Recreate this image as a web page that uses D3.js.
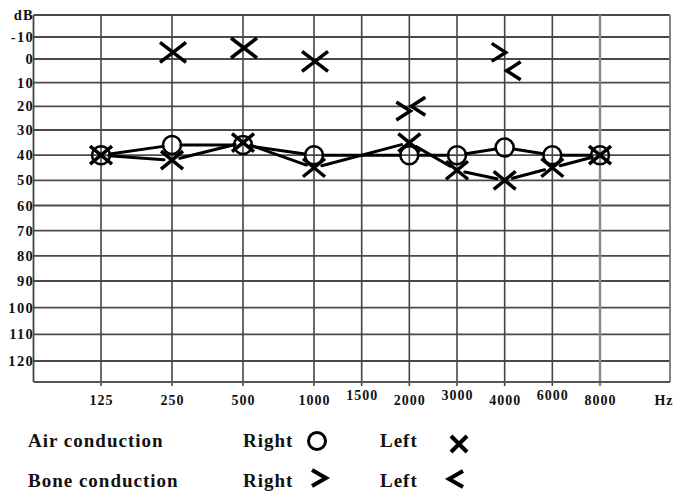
<!DOCTYPE html>
<html><head><meta charset="utf-8">
<script src="https://cdn.jsdelivr.net/npm/d3@7"></script>
<style>
html,body{margin:0;padding:0;background:#fff;}
svg{display:block;}
text{font-family:"Liberation Serif","Times New Roman",serif;font-weight:bold;fill:#111;}
</style></head>
<body>
<svg id="chart" width="678" height="491"></svg>
<script>
// ---------- data ----------
const freqLabels = ["125","250","500","1000","1500","2000","3000","4000","6000","8000"];
const raisedLabels = ["1500","3000","6000"];
const dbTicks = [-10,0,10,20,30,40,50,60,70,80,90,100,110,120];

const airRightFreq = ["125","250","500","1000","2000","3000","4000","6000","8000"];
const airRight     = [40, 36, 36, 40, 40, 40, 37, 40, 40];
const airLeftFreq  = ["125","250","500","1000","2000","3000","4000","6000","8000"];
const airLeft      = [40, 42, 35, 45, 35, 46, 50, 45, 40];
const extraLeftFreq = ["250","500","1000"];
const extraLeft     = [-3, -5, 1];
const boneRightFreq = ["2000","4000"];
const boneRight     = [22, -3];
const boneLeftFreq  = ["2000","4000"];
const boneLeft      = [20, 5];

// ---------- layout ----------
const svg = d3.select("#chart");
const plot = {left:33.5, top:15, right:670, bottom:382};

const x = d3.scaleLinear().domain([0,3,9]).range([101,314,600]);
const xf = f => x(freqLabels.indexOf(f));
const y = d3.scaleLinear().domain([-20,0,30,90,120]).range([15,59,130,281,361]);

const g = svg.append("g");

// horizontal grid
g.selectAll("line.h").data([-20].concat(dbTicks)).enter().append("line")
  .attr("x1", plot.left).attr("x2", plot.right)
  .attr("y1", d=>y(d)).attr("y2", d=>y(d))
  .attr("stroke","#4a4a4a").attr("stroke-width",1.8);
// vertical grid
g.selectAll("line.v").data(freqLabels).enter().append("line")
  .attr("x1", d=>xf(d)).attr("x2", d=>xf(d))
  .attr("y1", plot.top).attr("y2", plot.bottom+4)
  .attr("stroke", d=> d==="8000" ? "#888" : "#444")
  .attr("stroke-width", d=> d==="8000" ? 2.4 : 1.6);
// frame
g.append("line").attr("x1",plot.left).attr("x2",plot.left).attr("y1",plot.top).attr("y2",plot.bottom)
  .attr("stroke","#444").attr("stroke-width",1.8);
g.append("line").attr("x1",plot.right).attr("x2",plot.right).attr("y1",plot.top).attr("y2",plot.bottom)
  .attr("stroke","#777").attr("stroke-width",1.8);
g.append("line").attr("x1",plot.left).attr("x2",plot.right).attr("y1",plot.bottom).attr("y2",plot.bottom)
  .attr("stroke","#555").attr("stroke-width",1.8);

// y labels
g.selectAll("text.yl").data(dbTicks).enter().append("text")
  .attr("x", plot.left+0.5).attr("y", d=>y(d)).attr("dy","0.35em")
  .attr("text-anchor","end").attr("font-size",14.5).attr("letter-spacing",1.3).text(d=>d);
g.append("text").attr("x", plot.left+0.5).attr("y", y(-20)).attr("dy","0.35em")
  .attr("text-anchor","end").attr("font-size",14.5).attr("letter-spacing",1.3).text("dB");

// x labels
g.selectAll("text.xl").data(freqLabels).enter().append("text")
  .attr("x", d=>xf(d)+0.5).attr("y", d=> raisedLabels.includes(d) ? 400 : 405)
  .attr("text-anchor","middle").attr("font-size",14).attr("letter-spacing",1).text(d=>d);
g.append("text").attr("x",664).attr("y",405).attr("text-anchor","middle").attr("font-size",14).attr("letter-spacing",1).text("Hz");

// ---------- series ----------
function pts(freqs, vals){ return freqs.map((f,i)=>({x:xf(f), y:y(vals[i])})); }
function trimmedSegments(p, gap){
  const segs=[];
  for(let i=0;i<p.length-1;i++){
    const a=p[i], b=p[i+1];
    const dx=b.x-a.x, dy=b.y-a.y, L=Math.hypot(dx,dy);
    if(L<=2*gap) continue;
    const ux=dx/L, uy=dy/L;
    segs.push([a.x+ux*gap, a.y+uy*gap, b.x-ux*gap, b.y-uy*gap]);
  }
  return segs;
}
function drawLine(p, gap){
  g.append("g").selectAll("line").data(trimmedSegments(p,gap)).enter().append("line")
    .attr("x1",d=>d[0]).attr("y1",d=>d[1]).attr("x2",d=>d[2]).attr("y2",d=>d[3])
    .attr("stroke","#000").attr("stroke-width",3).attr("stroke-linecap","round");
}
function xPath(hw,hh){ return `M${-hw},${-hh}L${hw},${hh}M${-hw},${hh}L${hw},${-hh}`; }
function gtPath(hw,hh){ return `M${-hw},${-hh}L${hw},0L${-hw},${hh}`; }
function ltPath(hw,hh){ return `M${hw},${-hh}L${-hw},0L${hw},${hh}`; }

const pR = pts(airRightFreq, airRight);
const pL = pts(airLeftFreq, airLeft);
drawLine(pR, 9);
drawLine(pL, 8);

g.append("g").selectAll("circle").data(pR).enter().append("circle")
  .attr("cx",d=>d.x).attr("cy",d=>d.y).attr("r",9)
  .attr("fill","none").attr("stroke","#000").attr("stroke-width",2.5);

function marks(p, path, sw, dxo){
  g.append("g").selectAll("path").data(p).enter().append("path")
    .attr("transform",d=>`translate(${d.x+dxo},${d.y})`)
    .attr("d",path).attr("fill","none").attr("stroke","#000")
    .attr("stroke-width",sw).attr("stroke-linecap","butt").attr("stroke-linejoin","miter");
}
marks(pL, xPath(11,9), 3.5, 0);
marks(pts(extraLeftFreq, extraLeft), xPath(13,10), 3.5, 1);
marks(pts(boneRightFreq, boneRight), gtPath(7,9), 3.5, -6);
marks(pts(boneLeftFreq, boneLeft), ltPath(7,9), 3.5, 9);

// ---------- legend ----------
const legRows = ["Air conduction","Bone conduction"];
const legY = [447, 487];
legRows.forEach((t,i)=>{
  svg.append("text").attr("x",28).attr("y",legY[i]).attr("font-size",19).attr("letter-spacing",1).text(t);
  svg.append("text").attr("x",243).attr("y",legY[i]).attr("font-size",19).attr("letter-spacing",1).text("Right");
  svg.append("text").attr("x",380).attr("y",legY[i]).attr("font-size",19).attr("letter-spacing",1).text("Left");
});
svg.append("circle").attr("cx",317).attr("cy",441).attr("r",8.5)
  .attr("fill","none").attr("stroke","#000").attr("stroke-width",3);
svg.append("path").attr("transform","translate(459,444)").attr("d",xPath(8,8))
  .attr("fill","none").attr("stroke","#000").attr("stroke-width",4);
svg.append("path").attr("transform","translate(319,478)").attr("d",gtPath(7,8))
  .attr("fill","none").attr("stroke","#000").attr("stroke-width",4);
svg.append("path").attr("transform","translate(456,479)").attr("d",ltPath(7,8))
  .attr("fill","none").attr("stroke","#000").attr("stroke-width",4);
</script>
</body></html>
